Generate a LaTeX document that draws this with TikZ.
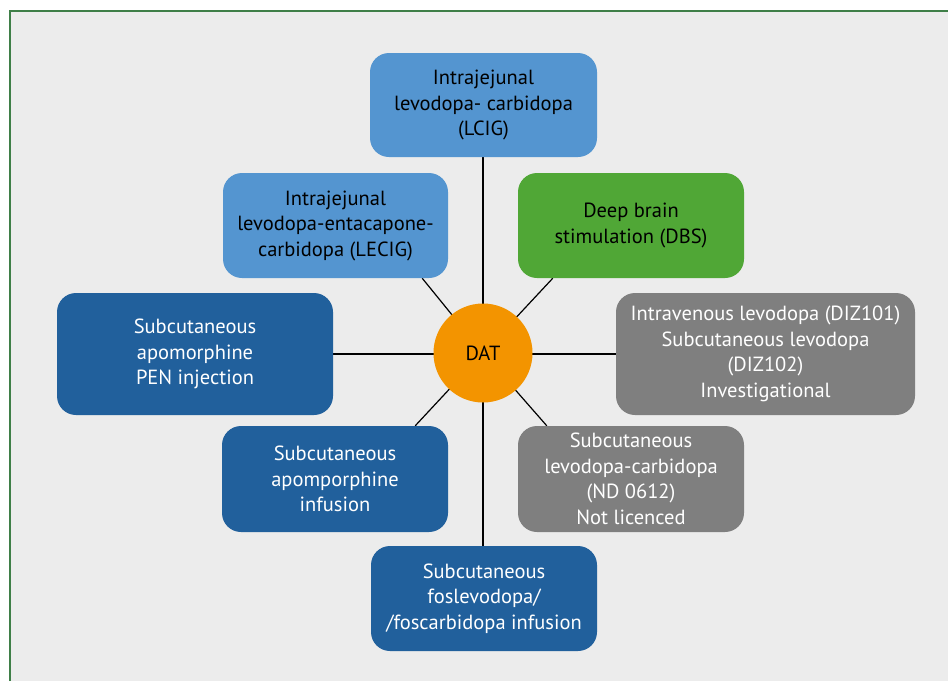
\documentclass[tikz,border=0pt]{standalone}
\usepackage{fontspec}
\setmainfont{PT Sans}
\usetikzlibrary{calc}
\definecolor{bgray}{HTML}{ECECEC}
\definecolor{frameg}{HTML}{3F7F48}
\definecolor{lblue}{HTML}{5495D0}
\definecolor{dblue}{HTML}{21609C}
\definecolor{dgreen}{HTML}{50A736}
\definecolor{mgray}{HTML}{7F7F7F}
\definecolor{dorange}{HTML}{F39400}
\pgfdeclarelayer{bg}
\pgfdeclarelayer{lines}
\pgfsetlayers{bg,lines,main}
\tikzset{
  box/.style={rounded corners=19pt, inner sep=0pt, align=center,
    font=\fontsize{20.5}{25.5}\selectfont},
  lb/.style={box, fill=lblue, text=black},
  db/.style={box, fill=dblue, text=white},
  gb/.style={box, fill=dgreen, text=black},
  grb/.style={box, fill=mgray, text=white},
  conn/.style={draw=black, line width=1.2pt}
}
\begin{document}
\begin{tikzpicture}[x=1pt,y=-1pt]
\useasboundingbox (0,0) rectangle (948,681);
\begin{pgfonlayer}{bg}
\fill[white] (0,0) rectangle (948,681);
\fill[bgray] (10,11) rectangle (948,681);
\draw[frameg, line width=2pt] (10,681) -- (10,11) -- (948,11);
\end{pgfonlayer}

\node[lb, minimum width=227pt, minimum height=104pt] (lcig) at (483.5,105) {Intrajejunal\\levodopa- carbidopa\\(LCIG)};
\node[lb, minimum width=225pt, minimum height=105pt] (lecig) at (335.5,225.5) {Intrajejunal\\levodopa-entacapone-\\carbidopa (LECIG)};
\node[gb, minimum width=226pt, minimum height=105pt] (dbs) at (631,225.5) {Deep brain\\stimulation (DBS)};
\node[db, minimum width=276pt, minimum height=122pt] (pen) at (195,354) {Subcutaneous\\apomorphine\\PEN injection};
\node[grb, minimum width=299pt, minimum height=122pt] (iv) at (765.5,354) {Intravenous levodopa (DIZ101)\\Subcutaneous levodopa\\(DIZ102)\\Investigational};
\node[db, minimum width=226pt, minimum height=106pt] (apo) at (335,479) {Subcutaneous\\apomporphine\\infusion};
\node[grb, minimum width=226pt, minimum height=106pt] (nd) at (631,479) {Subcutaneous\\levodopa-carbidopa\\(ND 0612)\\Not licenced};
\node[db, minimum width=226pt, minimum height=105pt] (fos) at (484,598.5) {Subcutaneous\\foslevodopa/\\/foscarbidopa infusion};
\node[circle, fill=dorange, minimum size=99pt, inner sep=0pt, font=\fontsize{20.5}{24}\selectfont] (dat) at (483,353) {DAT};

\begin{pgfonlayer}{lines}
\draw[conn] (dat.center |- lcig.south) -- (dat.center |- fos.north);
\draw[conn] (pen.east) -- (iv.west);
\draw[conn] (dat.center) -- ($(lecig.south east)+(-26,0)$);
\draw[conn] (dat.center) -- ($(dbs.south west)+(35,0)$);
\draw[conn] (dat.center) -- ($(apo.north east)+(-33,0)$);
\draw[conn] (dat.center) -- ($(nd.north west)+(29,0)$);
\end{pgfonlayer}
\end{tikzpicture}
\end{document}
